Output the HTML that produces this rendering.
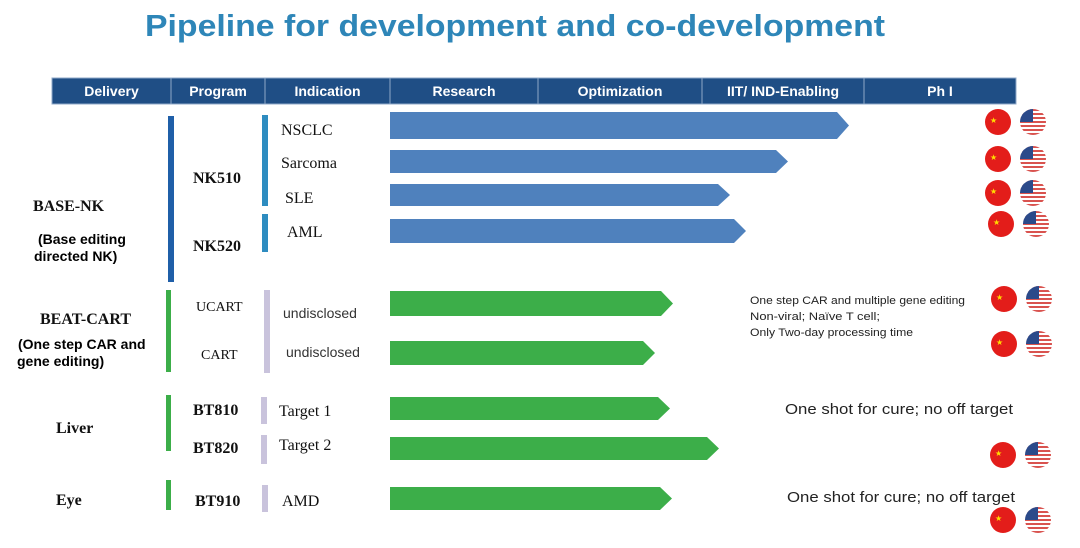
<!DOCTYPE html>
<html><head><meta charset="utf-8"><style>
body{margin:0;background:#fff;width:1080px;height:548px;overflow:hidden;font-family:"Liberation Sans",sans-serif}
svg{display:block}
.h{fill:#fff;font-size:14px;font-weight:bold;text-anchor:middle}
.s{font-family:"Liberation Serif",serif;fill:#111}
</style></head><body>
<svg id="c" width="1080" height="548">
<text x="145" y="36" font-size="31" font-weight="bold" fill="#2e86b8" textLength="740" lengthAdjust="spacingAndGlyphs">Pipeline for development and co-development</text>
<g id="hdr"></g>
<g id="marks"></g>
</svg>
<script>
const columns=["Delivery","Program","Indication","Research","Optimization","IIT/ IND-Enabling","Ph I"];
const colEdges=[52,171,265,390,538,702,864,1016];
const programs=["NSCLC","Sarcoma","SLE","AML","UCART","CART","BT810","BT820","BT910"];
const progress=[849,788,730,746,673,655,670,719,672]; // x-position of bar tip on phase scale
const NS="http://www.w3.org/2000/svg";
const svg=document.getElementById('c');
function el(t,a,p){const e=document.createElementNS(NS,t);for(const k in a)e.setAttribute(k,a[k]);(p||svg).appendChild(e);return e;}
function txt(x,y,s,attrs,name){const e=el('text',Object.assign({x:x,y:y},attrs));e.textContent=s;


return e;}
columns.forEach((c,i)=>{const r=el('rect',{x:colEdges[i],y:78,width:colEdges[i+1]-colEdges[i],height:26,fill:'#1f4e85',stroke:'#8fa8c8','stroke-width':1});


txt((colEdges[i]+colEdges[i+1])/2,96,c,{class:'h','font-size':i>2?12:14},'header-label');});
const rowsY=[[112,139],[150,173],[184,206],[219,243],[291,316],[341,365],[397,420],[437,460],[487,510]];
programs.forEach((p,i)=>{const [y0,y1]=rowsY[i];const x0=390;const tip=progress[i];const m=(y0+y1)/2;const a=12;
const col=i<4?'#4f81bd':'#3cae49';
const poly=el('polygon',{points:`${x0},${y0} ${tip-a},${y0} ${tip},${m} ${tip-a},${y1} ${x0},${y1}`,fill:col});

});
[[168,116,282,'#1f5fa8',6],[166,290,372,'#3cae49',5],[166,395,451,'#3cae49',5],[166,480,510,'#3cae49',5],
 [262,115,206,'#2e8cc0',6],[262,214,252,'#2e8cc0',6],[264,290,373,'#c9c3dc',6],[261,397,424,'#c9c3dc',6],[261,435,464,'#c9c3dc',6],[262,485,512,'#c9c3dc',6]]
.forEach(v=>{const r=el('rect',{x:v[0],y:v[1],width:v[4],height:v[2]-v[1],fill:v[3]});

});
const S={class:'s','font-weight':'bold','font-size':16};
txt(33,211,'BASE-NK',S,'delivery-base-nk');
txt(38,244,'(Base editing',{'font-size':14,'font-weight':'bold'},'delivery-note');
txt(34,261,'directed NK)',{'font-size':14,'font-weight':'bold'},'delivery-note');
txt(40,324,'BEAT-CART',S,'delivery-beat-cart');
txt(18,349,'(One step CAR and',{'font-size':14,'font-weight':'bold'},'delivery-note');
txt(17,366,'gene editing)',{'font-size':14,'font-weight':'bold'},'delivery-note');
txt(56,433,'Liver',S,'delivery-liver');
txt(56,505,'Eye',S,'delivery-eye');
[['NK510',193,183],['NK520',193,251],['BT810',193,415],['BT820',193,453],['BT910',195,506]].forEach(a=>txt(a[1],a[2],a[0],S,'program-label'));
txt(196,311,'UCART',{class:'s','font-size':14},'program-label');
txt(201,359,'CART',{class:'s','font-size':14},'program-label');
const I={class:'s','font-size':16};
[['NSCLC',281,135],['Sarcoma',281,168],['SLE',285,203],['AML',287,237],['Target 1',279,416],['Target 2',279,450],['AMD',282,506]].forEach(a=>txt(a[1],a[2],a[0],I,'indication-label'));
txt(283,318,'undisclosed',{'font-size':14,fill:'#333'},'indication-label');
txt(286,357,'undisclosed',{'font-size':14,fill:'#333'},'indication-label');
txt(750,304,'One step CAR and multiple gene editing',{'font-size':11,fill:'#222',textLength:215,lengthAdjust:'spacingAndGlyphs'},'note');
txt(750,320,'Non-viral; Naïve T cell;',{'font-size':11,fill:'#222',textLength:130,lengthAdjust:'spacingAndGlyphs'},'note');
txt(750,336,'Only Two-day processing time',{'font-size':11,fill:'#222',textLength:163,lengthAdjust:'spacingAndGlyphs'},'note');
txt(785,414,'One shot for cure; no off target',{'font-size':15,fill:'#222',textLength:228,lengthAdjust:'spacingAndGlyphs'},'note');
txt(787,502,'One shot for cure; no off target',{'font-size':15,fill:'#222',textLength:228,lengthAdjust:'spacingAndGlyphs'},'note');
[[122,998],[159,998],[193,998],[224,1001],[299,1004],[344,1004],[455,1003],[520,1003]].forEach(f=>{
const cn=el('circle',{cx:f[1],cy:f[0],r:13,fill:'#e31d1a'});


const st=el('text',{x:f[1]-8,y:f[0]+1,'font-size':8,fill:'#ffde00'});st.textContent='★';
const g=el('g',{});


const cx=f[1]+35,cy=f[0];
const cp=el('clipPath',{id:'cp'+cy},g);el('circle',{cx:cx,cy:cy,r:13},cp);
const inner=el('g',{'clip-path':`url(#cp${cy})`},g);
el('rect',{x:cx-13,y:cy-13,width:26,height:26,fill:'#fff'},inner);
for(let k=0;k<7;k++)el('rect',{x:cx-13,y:cy-13+k*4,width:26,height:2,fill:'#d9534f'},inner);
el('rect',{x:cx-13,y:cy-13,width:13,height:13,fill:'#2b4a8a'},inner);
});
</script>
</body></html>
